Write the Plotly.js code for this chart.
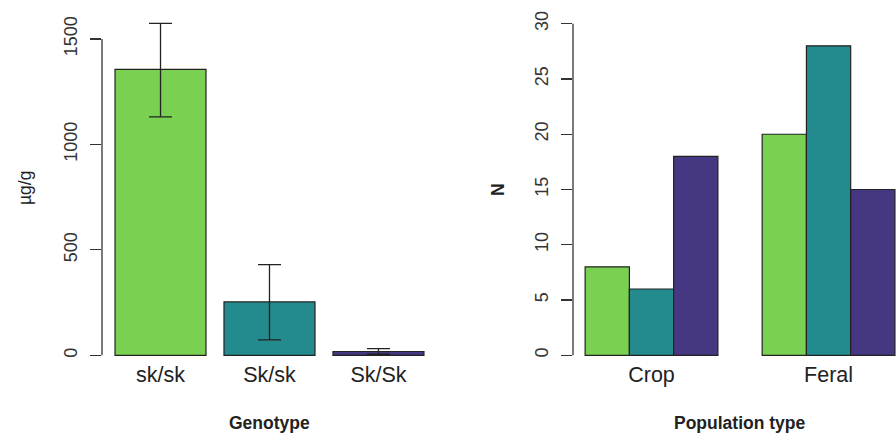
<!DOCTYPE html>
<html>
<head>
<meta charset="utf-8">
<script src="https://cdn.plot.ly/plotly-3.0.1.min.js"></script>
<style>html,body{margin:0;padding:0;background:#fff;}#chart{width:896px;height:434px;}</style>
</head>
<body>
<div id="chart"></div>
<script>
// ---- data ----
const genotypes = ['sk/sk', 'Sk/sk', 'Sk/Sk'];
const meanConc = [1356, 253, 18];          // µg/g
const errUpper = [218, 177, 14];
const errLower = [225, 180, 13];
const populations = ['Crop', 'Feral'];
const nSksk_lower = [8, 20];   // sk/sk
const nSksk_het = [6, 28];     // Sk/sk
const nSkSk = [18, 15];        // Sk/Sk
const genoColors = ['#7AD151', '#238A8D', '#453781'];
const leftTicks = [0, 500, 1000, 1500];
const rightTicks = [0, 5, 10, 15, 20, 25, 30];

const FONT = '"Liberation Sans", Arial, Helvetica, sans-serif';
const INK = '#222';
const outline = {color: INK, width: 1.2};

const traces = [
  {type: 'bar', x: genotypes, y: meanConc, xaxis: 'x', yaxis: 'y',
   width: 0.835,
   marker: {color: genoColors, line: outline},
   error_y: {type: 'data', symmetric: false, array: errUpper, arrayminus: errLower,
             color: INK, thickness: 1.3, width: 11.5},
   hoverinfo: 'x+y'},
  {type: 'bar', name: genotypes[0], x: populations, y: nSksk_lower, xaxis: 'x2', yaxis: 'y2',
   marker: {color: genoColors[0], line: outline}},
  {type: 'bar', name: genotypes[1], x: populations, y: nSksk_het, xaxis: 'x2', yaxis: 'y2',
   marker: {color: genoColors[1], line: outline}},
  {type: 'bar', name: genotypes[2], x: populations, y: nSkSk, xaxis: 'x2', yaxis: 'y2',
   marker: {color: genoColors[2], line: outline}}
];

const yDom = [(434 - 359) / 434, (434 - 10) / 434];
const xTickFont = {family: FONT, size: 21.5, color: INK};
const yTickFont = {family: FONT, size: 18, color: '#333'};

const layout = {
  width: 896, height: 434,
  margin: {l: 0, r: 0, t: 0, b: 0},
  paper_bgcolor: '#fff', plot_bgcolor: 'rgba(0,0,0,0)',
  showlegend: false,
  barmode: 'group', bargap: 0.25, bargroupgap: 0,
  font: {family: FONT, color: INK},
  xaxis: {domain: [102 / 896, 436 / 896], range: [-0.537, 2.528], type: 'category',
          showgrid: false, zeroline: false, showline: false, ticks: '',
          tickfont: xTickFont, fixedrange: true},
  yaxis: {domain: yDom, range: [-17.5, 1637.5], tickvals: leftTicks,
          showgrid: false, zeroline: false, showline: false,
          ticks: 'outside', ticklen: 11, tickwidth: 1.2, tickcolor: '#333',
          tickangle: -90, tickfont: yTickFont, ticklabelstandoff: 6, fixedrange: true},
  xaxis2: {domain: [573 / 896, 1], range: [-0.4435, 1.381], type: 'category',
           showgrid: false, zeroline: false, showline: false, ticks: '',
           tickfont: xTickFont, fixedrange: true},
  yaxis2: {domain: yDom, range: [-0.335, 31.24], tickvals: rightTicks, anchor: 'x2',
           showgrid: false, zeroline: false, showline: false,
           ticks: 'outside', ticklen: 11, tickwidth: 1.2, tickcolor: '#333',
           tickangle: -90, tickfont: yTickFont, ticklabelstandoff: 6, fixedrange: true},
  shapes: [
    {type: 'line', xref: 'x domain', yref: 'y', x0: 0, x1: 0,
     y0: leftTicks[0], y1: leftTicks[leftTicks.length - 1], line: {color: '#333', width: 1.3}},
    {type: 'line', xref: 'x2 domain', yref: 'y2', x0: 0, x1: 0,
     y0: rightTicks[0], y1: rightTicks[rightTicks.length - 1], line: {color: '#333', width: 1.3}}
  ],
  annotations: [
    {text: 'Genotype', xref: 'paper', yref: 'paper', x: 269 / 896, y: 1 - 423 / 434,
     showarrow: false, xanchor: 'center', yanchor: 'middle',
     font: {family: FONT, size: 17.5, color: INK, weight: 'bold'}},
    {text: 'Population type', xref: 'paper', yref: 'paper', x: 740 / 896, y: 1 - 423 / 434,
     showarrow: false, xanchor: 'center', yanchor: 'middle',
     font: {family: FONT, size: 17.5, color: INK, weight: 'bold'}},
    {text: 'µg/g', xref: 'paper', yref: 'paper', x: 25 / 896, y: 1 - 188 / 434,
     showarrow: false, xanchor: 'center', yanchor: 'middle', textangle: -90,
     font: {family: FONT, size: 17.5, color: INK}},
    {text: 'N', xref: 'paper', yref: 'paper', x: 498 / 896, y: 1 - 190 / 434,
     showarrow: false, xanchor: 'center', yanchor: 'middle', textangle: -90,
     font: {family: FONT, size: 17.5, color: INK, weight: 'bold'}}
  ]
};

Plotly.newPlot('chart', traces, layout, {displayModeBar: false, staticPlot: true});
</script>
</body>
</html>
